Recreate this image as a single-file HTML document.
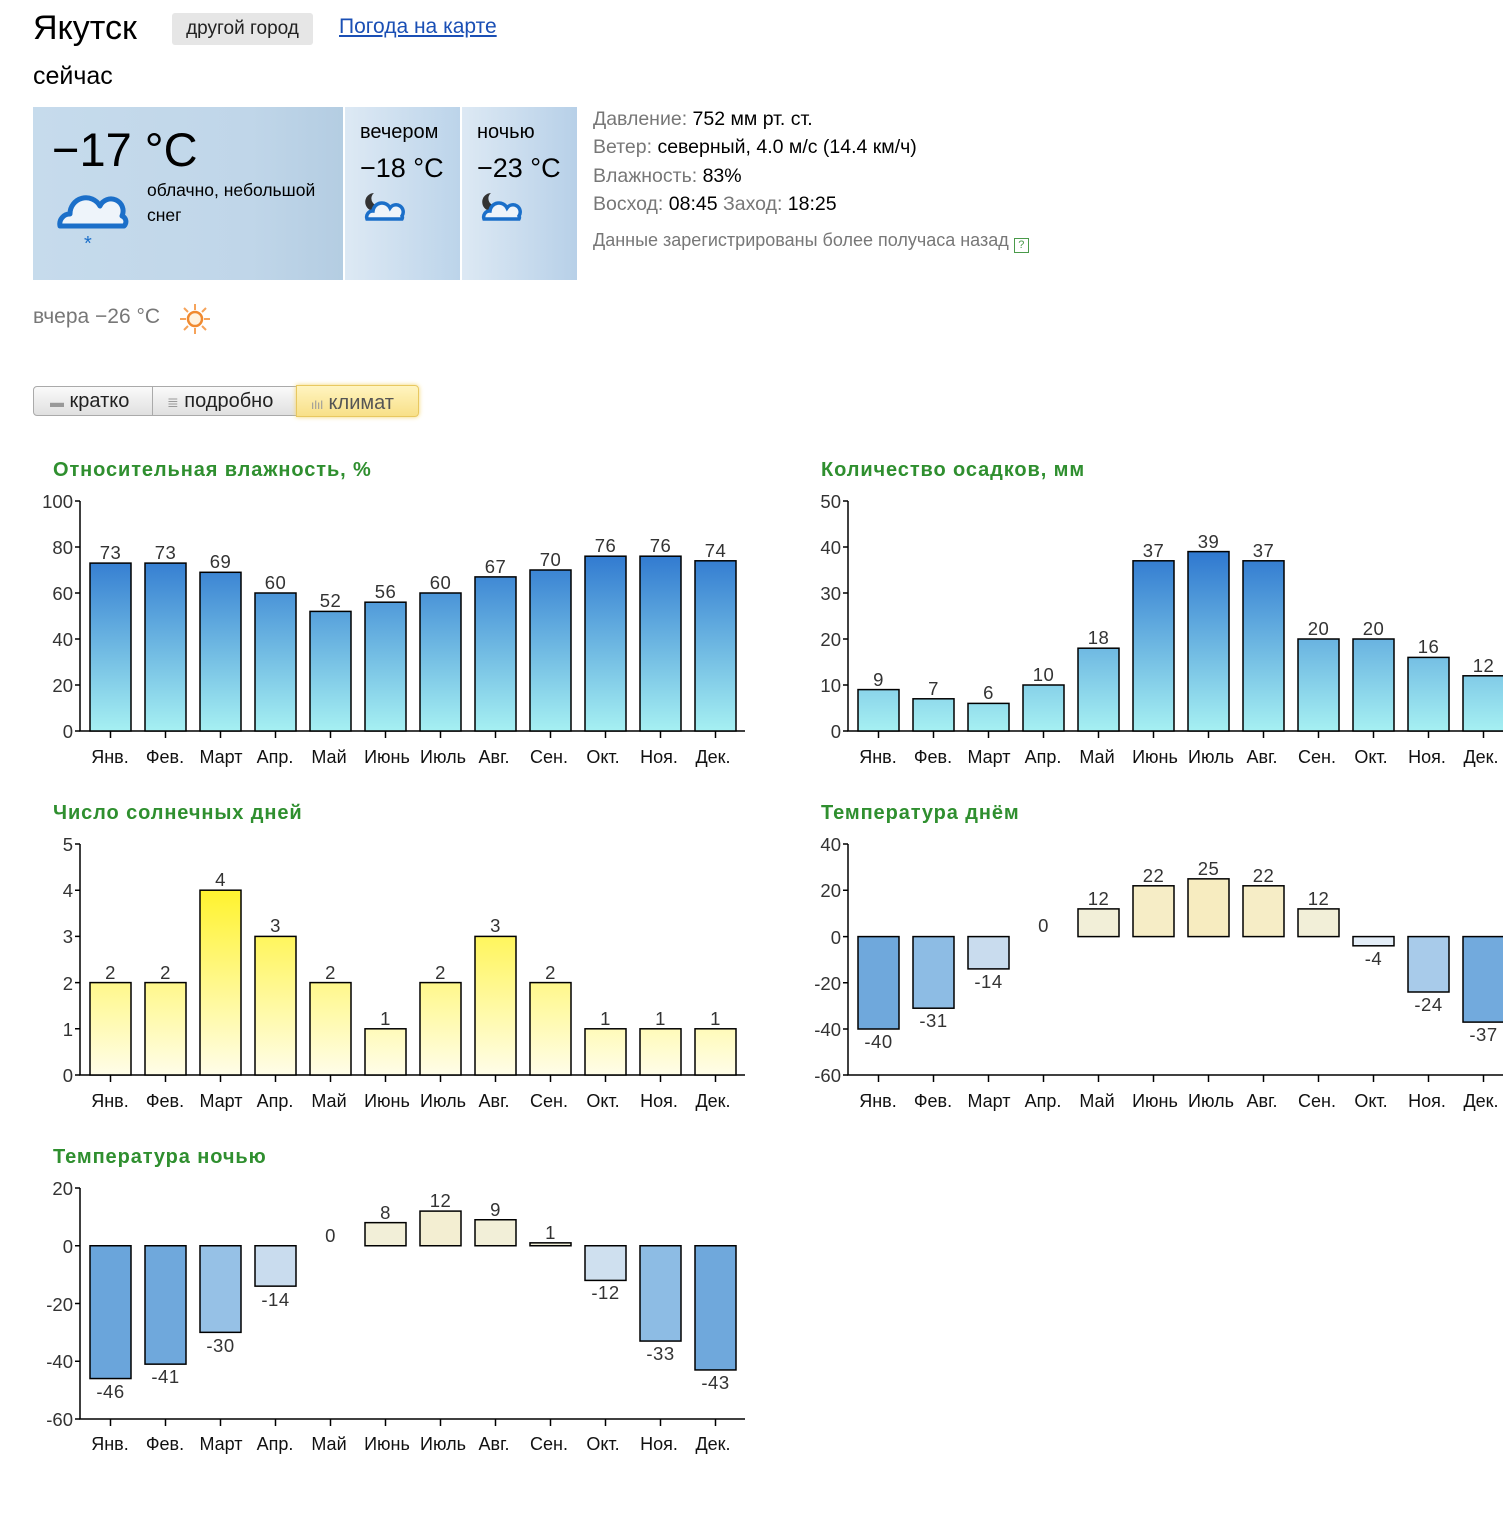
<!DOCTYPE html>
<html><head><meta charset="utf-8">
<style>
body{margin:0;width:1503px;height:1520px;background:#fff;font-family:"Liberation Sans",Arial,sans-serif;position:relative;overflow:hidden;color:#000}
.a{position:absolute;white-space:nowrap}
.lbl{color:#777}
</style></head><body>
<div class="a" style="left:33px;top:9px;font-size:34px">Якутск</div>
<div class="a" style="left:172px;top:13px;width:141px;height:32px;background:#e6e6e6;border-radius:3px;font-size:19px;line-height:32px;text-align:center;color:#222">другой город</div>
<div class="a" style="left:339px;top:15px;font-size:21px;color:#1a4fb5;text-decoration:underline">Погода на карте</div>
<div class="a" style="left:33px;top:62px;font-size:25px">сейчас</div>

<div class="a" style="left:33px;top:107px;width:310px;height:173px;background:linear-gradient(90deg,#c6dbec,#c0d6e9 70%,#b4cde2)"></div>
<div class="a" style="left:345px;top:107px;width:115px;height:173px;background:linear-gradient(90deg,#dde9f4,#bcd4ea)"></div>
<div class="a" style="left:462px;top:107px;width:115px;height:173px;background:linear-gradient(90deg,#dde9f4,#b7d0e8)"></div>
<div class="a" style="left:52px;top:122px;font-size:47px">−17 °C</div>
<div class="a" style="left:147px;top:178px;font-size:17.5px;line-height:25px">облачно, небольшой<br>снег</div>
<svg class="a" style="left:52px;top:188px" width="80" height="66"><path d="M8 38 a10 10 0 0 1 10-12 a16 16 0 0 1 30-8 a12 12 0 0 1 22 10 a6 6 0 0 1 2 10 z" fill="#eef4fa" stroke="#1b6fc9" stroke-width="5" stroke-linejoin="round"/><text x="32" y="62" font-size="20" fill="#1b6fc9" font-family="Liberation Sans">*</text></svg>
<div class="a" style="left:360px;top:121px;font-size:20px">вечером</div>
<div class="a" style="left:360px;top:153px;font-size:27px">−18 °C</div>
<div class="a" style="left:477px;top:121px;font-size:20px">ночью</div>
<div class="a" style="left:477px;top:153px;font-size:27px">−23 °C</div>
<svg class="a" style="left:362px;top:190px" width="45" height="34"><path d="M12 3 a9 9 0 1 0 9 11 a7 7 0 0 1 -9 -11z" fill="#333"/><path d="M5 29 a6 6 0 0 1 6-8 a9 9 0 0 1 17-3 a7 7 0 0 1 12 8 a3 3 0 0 1 0 3z" fill="#eef4fa" stroke="#1b6fc9" stroke-width="3.5"/></svg>
<svg class="a" style="left:479px;top:190px" width="45" height="34"><path d="M12 3 a9 9 0 1 0 9 11 a7 7 0 0 1 -9 -11z" fill="#333"/><path d="M5 29 a6 6 0 0 1 6-8 a9 9 0 0 1 17-3 a7 7 0 0 1 12 8 a3 3 0 0 1 0 3z" fill="#eef4fa" stroke="#1b6fc9" stroke-width="3.5"/></svg>

<div class="a" style="left:593px;top:105px;font-size:19.5px;line-height:28.3px"><span class="lbl">Давление:</span> 752 мм рт. ст.<br><span class="lbl">Ветер:</span> северный, 4.0 м/с (14.4 км/ч)<br><span class="lbl">Влажность:</span> 83%<br><span class="lbl">Восход:</span> 08:45 <span class="lbl">Заход:</span> 18:25</div>
<div class="a" style="left:593px;top:230px;font-size:18px;color:#777">Данные зарегистрированы более получаса назад <span style="display:inline-block;width:13px;height:13px;border:1px solid #4a9a4a;font-size:11px;line-height:13px;text-align:center;color:#4a9a4a;vertical-align:-2px">?</span></div>

<div class="a" style="left:33px;top:305px;font-size:21px;color:#777">вчера −26 °C</div>
<svg class="a" style="left:178px;top:302px" width="34" height="34"><g stroke="#f6a35a" stroke-width="2"><line x1="17" y1="2" x2="17" y2="8"/><line x1="17" y1="26" x2="17" y2="32"/><line x1="2" y1="17" x2="8" y2="17"/><line x1="26" y1="17" x2="32" y2="17"/><line x1="6" y1="6" x2="10" y2="10"/><line x1="24" y1="24" x2="28" y2="28"/><line x1="28" y1="6" x2="24" y2="10"/><line x1="6" y1="28" x2="10" y2="24"/></g><circle cx="17" cy="17" r="7" fill="#fff3e0" stroke="#f08a30" stroke-width="2.5"/></svg>

<div class="a" style="left:33px;top:386px;width:118px;height:28px;border:1px solid #aaa;border-radius:4px 0 0 4px;background:linear-gradient(#fafafa,#e0e0e0);font-size:20px;line-height:28px;color:#222"><span style="color:#999;font-size:14px;margin-left:16px">▬</span> кратко</div>
<div class="a" style="left:152px;top:386px;width:143px;height:28px;border:1px solid #aaa;background:linear-gradient(#fafafa,#e0e0e0);font-size:20px;line-height:28px;color:#222"><span style="color:#999;font-size:14px;margin-left:14px">≣</span> подробно</div>
<div class="a" style="left:296px;top:385px;width:121px;height:30px;border:1px solid #e8c860;border-radius:0 4px 4px 0;background:linear-gradient(#fff4c0,#f8e088);box-shadow:0 0 5px #f3d46a;font-size:20px;line-height:34px;color:#555"><span style="color:#999;font-size:12px;margin-left:14px">ılıl</span> климат</div>

<svg class="a" style="left:0;top:0" width="1503" height="1520" font-family="Liberation Sans,Arial,sans-serif">
<defs>
<linearGradient id="gb1" gradientUnits="userSpaceOnUse" x1="0" y1="501" x2="0" y2="731"><stop offset="0" stop-color="#0d56c6"/><stop offset="1" stop-color="#a6f0f2"/></linearGradient>
<linearGradient id="gy" gradientUnits="userSpaceOnUse" x1="0" y1="844" x2="0" y2="1075"><stop offset="0" stop-color="#fff000"/><stop offset="1" stop-color="#fffde8"/></linearGradient>
</defs>
<g font-size="20" font-weight="bold" fill="#2f8f2f" letter-spacing="0.9">
<text x="53" y="476">Относительная влажность, %</text>
<text x="821" y="476">Количество осадков, мм</text>
<text x="53" y="819">Число солнечных дней</text>
<text x="821" y="819">Температура днём</text>
<text x="53" y="1163">Температура ночью</text>
</g>
<g stroke="#000" stroke-width="1.5" fill="none">
<path d="M80 501V731H745M848 501V731H1503M80 844V1075H745M848 844V1075H1503M80 1188V1419H745"/>
<path d="M75 501H80M75 547H80M75 593H80M75 639H80M75 685H80M75 731H80"/>
<path d="M843 501H848M843 547H848M843 593H848M843 639H848M843 685H848M843 731H848"/>
<path d="M75 844H80M75 890.2H80M75 936.4H80M75 982.6H80M75 1028.8H80M75 1075H80"/>
<path d="M843 844H848M843 890.3H848M843 936.6H848M843 982.8H848M843 1029H848M843 1075H848"/>
<path d="M75 1188H80M75 1245.75H80M75 1303.5H80M75 1361.25H80M75 1419H80"/>
<path d="M110.5 731v7M165.5 731v7M220.5 731v7M275.5 731v7M330.5 731v7M385.5 731v7M440.5 731v7M495.5 731v7M550.5 731v7M605.5 731v7M660.5 731v7M715.5 731v7"/>
<path d="M878.5 731v7M933.5 731v7M988.5 731v7M1043.5 731v7M1098.5 731v7M1153.5 731v7M1208.5 731v7M1263.5 731v7M1318.5 731v7M1373.5 731v7M1428.5 731v7M1483.5 731v7"/>
<path d="M110.5 1075v7M165.5 1075v7M220.5 1075v7M275.5 1075v7M330.5 1075v7M385.5 1075v7M440.5 1075v7M495.5 1075v7M550.5 1075v7M605.5 1075v7M660.5 1075v7M715.5 1075v7"/>
<path d="M878.5 1075v7M933.5 1075v7M988.5 1075v7M1043.5 1075v7M1098.5 1075v7M1153.5 1075v7M1208.5 1075v7M1263.5 1075v7M1318.5 1075v7M1373.5 1075v7M1428.5 1075v7M1483.5 1075v7"/>
<path d="M110.5 1419v7M165.5 1419v7M220.5 1419v7M275.5 1419v7M330.5 1419v7M385.5 1419v7M440.5 1419v7M495.5 1419v7M550.5 1419v7M605.5 1419v7M660.5 1419v7M715.5 1419v7"/>
</g>
<g font-size="18.5" fill="#333" text-anchor="end">
<text x="73" y="508">100</text><text x="73" y="554">80</text><text x="73" y="600">60</text><text x="73" y="646">40</text><text x="73" y="692">20</text><text x="73" y="738">0</text>
<text x="841" y="508">50</text><text x="841" y="554">40</text><text x="841" y="600">30</text><text x="841" y="646">20</text><text x="841" y="692">10</text><text x="841" y="738">0</text>
<text x="73" y="851">5</text><text x="73" y="897">4</text><text x="73" y="943">3</text><text x="73" y="990">2</text><text x="73" y="1036">1</text><text x="73" y="1082">0</text>
<text x="841" y="851">40</text><text x="841" y="897">20</text><text x="841" y="944">0</text><text x="841" y="990">-20</text><text x="841" y="1036">-40</text><text x="841" y="1082">-60</text>
<text x="73" y="1195">20</text><text x="73" y="1253">0</text><text x="73" y="1311">-20</text><text x="73" y="1368">-40</text><text x="73" y="1426">-60</text>
</g>
<g font-size="18" fill="#111" text-anchor="middle">
<g id="m1"><text x="110" y="763">Янв.</text><text x="165" y="763">Фев.</text><text x="221" y="763">Март</text><text x="275" y="763">Апр.</text><text x="329" y="763">Май</text><text x="387" y="763">Июнь</text><text x="443" y="763">Июль</text><text x="494" y="763">Авг.</text><text x="549" y="763">Сен.</text><text x="603" y="763">Окт.</text><text x="659" y="763">Ноя.</text><text x="713" y="763">Дек.</text></g>
<use href="#m1" x="768"/><use href="#m1" y="344"/><use href="#m1" x="768" y="344"/><use href="#m1" y="687"/>
</g>
<g stroke="#000" stroke-width="1.5">
<g fill="url(#gb1)">
<rect x="90" y="563.1" width="41" height="167.9"/><rect x="145" y="563.1" width="41" height="167.9"/><rect x="200" y="572.3" width="41" height="158.7"/><rect x="255" y="593" width="41" height="138"/><rect x="310" y="611.4" width="41" height="119.6"/><rect x="365" y="602.2" width="41" height="128.8"/><rect x="420" y="593" width="41" height="138"/><rect x="475" y="576.9" width="41" height="154.1"/><rect x="530" y="570" width="41" height="161"/><rect x="585" y="556.2" width="41" height="174.8"/><rect x="640" y="556.2" width="41" height="174.8"/><rect x="695" y="560.8" width="41" height="170.2"/>
<rect x="858" y="689.6" width="41" height="41.4"/><rect x="913" y="698.8" width="41" height="32.2"/><rect x="968" y="703.4" width="41" height="27.6"/><rect x="1023" y="685" width="41" height="46"/><rect x="1078" y="648.2" width="41" height="82.8"/><rect x="1133" y="560.8" width="41" height="170.2"/><rect x="1188" y="551.6" width="41" height="179.4"/><rect x="1243" y="560.8" width="41" height="170.2"/><rect x="1298" y="639" width="41" height="92"/><rect x="1353" y="639" width="41" height="92"/><rect x="1408" y="657.4" width="41" height="73.6"/><rect x="1463" y="675.8" width="41" height="55.2"/>
</g>
<g fill="url(#gy)">
<rect x="90" y="982.6" width="41" height="92.4"/><rect x="145" y="982.6" width="41" height="92.4"/><rect x="200" y="890.2" width="41" height="184.8"/><rect x="255" y="936.4" width="41" height="138.6"/><rect x="310" y="982.6" width="41" height="92.4"/><rect x="365" y="1028.8" width="41" height="46.2"/><rect x="420" y="982.6" width="41" height="92.4"/><rect x="475" y="936.4" width="41" height="138.6"/><rect x="530" y="982.6" width="41" height="92.4"/><rect x="585" y="1028.8" width="41" height="46.2"/><rect x="640" y="1028.8" width="41" height="46.2"/><rect x="695" y="1028.8" width="41" height="46.2"/>
</g>
<rect x="858" y="936.6" width="41" height="92.4" fill="#6fa8dc"/><rect x="913" y="936.6" width="41" height="71.6" fill="#8dbce4"/><rect x="968" y="936.6" width="41" height="32.3" fill="#c9dcee"/><rect x="1078" y="908.9" width="41" height="27.7" fill="#f2efd8"/><rect x="1133" y="885.8" width="41" height="50.8" fill="#f6edc6"/><rect x="1188" y="878.85" width="41" height="57.75" fill="#f7ecc0"/><rect x="1243" y="885.8" width="41" height="50.8" fill="#f6edc6"/><rect x="1298" y="908.9" width="41" height="27.7" fill="#f2efd8"/><rect x="1353" y="936.6" width="41" height="9.2" fill="#e4eef8"/><rect x="1408" y="936.6" width="41" height="55.4" fill="#a8cbea"/><rect x="1463" y="936.6" width="41" height="85.5" fill="#72aadd"/>
<rect x="90" y="1245.75" width="41" height="132.8" fill="#6aa5db"/><rect x="145" y="1245.75" width="41" height="118.4" fill="#6fa8dc"/><rect x="200" y="1245.75" width="41" height="86.6" fill="#96c1e6"/><rect x="255" y="1245.75" width="41" height="40.4" fill="#c9dcee"/><rect x="365" y="1222.65" width="41" height="23.1" fill="#f2efd8"/><rect x="420" y="1211.1" width="41" height="34.65" fill="#f3eed2"/><rect x="475" y="1219.75" width="41" height="26" fill="#f2efd8"/><rect x="530" y="1242.85" width="41" height="2.9" fill="#f2efd8"/><rect x="585" y="1245.75" width="41" height="34.65" fill="#cfe0ef"/><rect x="640" y="1245.75" width="41" height="95.3" fill="#8dbce4"/><rect x="695" y="1245.75" width="41" height="124.2" fill="#6fa8dc"/>
</g>
<g font-size="18.5" fill="#333" text-anchor="middle" letter-spacing="0.5">
<text x="110.5" y="559">73</text><text x="165.5" y="559">73</text><text x="220.5" y="568">69</text><text x="275.5" y="589">60</text><text x="330.5" y="607">52</text><text x="385.5" y="598">56</text><text x="440.5" y="589">60</text><text x="495.5" y="573">67</text><text x="550.5" y="566">70</text><text x="605.5" y="552">76</text><text x="660.5" y="552">76</text><text x="715.5" y="557">74</text>
<text x="878.5" y="686">9</text><text x="933.5" y="695">7</text><text x="988.5" y="699">6</text><text x="1043.5" y="681">10</text><text x="1098.5" y="644">18</text><text x="1153.5" y="557">37</text><text x="1208.5" y="548">39</text><text x="1263.5" y="557">37</text><text x="1318.5" y="635">20</text><text x="1373.5" y="635">20</text><text x="1428.5" y="653">16</text><text x="1483.5" y="672">12</text>
<text x="110.5" y="979">2</text><text x="165.5" y="979">2</text><text x="220.5" y="886">4</text><text x="275.5" y="932">3</text><text x="330.5" y="979">2</text><text x="385.5" y="1025">1</text><text x="440.5" y="979">2</text><text x="495.5" y="932">3</text><text x="550.5" y="979">2</text><text x="605.5" y="1025">1</text><text x="660.5" y="1025">1</text><text x="715.5" y="1025">1</text>
<text x="878.5" y="1048">-40</text><text x="933.5" y="1027">-31</text><text x="988.5" y="988">-14</text><text x="1043.5" y="932">0</text><text x="1098.5" y="905">12</text><text x="1153.5" y="882">22</text><text x="1208.5" y="875">25</text><text x="1263.5" y="882">22</text><text x="1318.5" y="905">12</text><text x="1373.5" y="965">-4</text><text x="1428.5" y="1011">-24</text><text x="1483.5" y="1041">-37</text>
<text x="110.5" y="1398">-46</text><text x="165.5" y="1383">-41</text><text x="220.5" y="1352">-30</text><text x="275.5" y="1306">-14</text><text x="330.5" y="1242">0</text><text x="385.5" y="1219">8</text><text x="440.5" y="1207">12</text><text x="495.5" y="1216">9</text><text x="550.5" y="1239">1</text><text x="605.5" y="1299">-12</text><text x="660.5" y="1360">-33</text><text x="715.5" y="1389">-43</text>
</g>
</svg>
</body></html>
